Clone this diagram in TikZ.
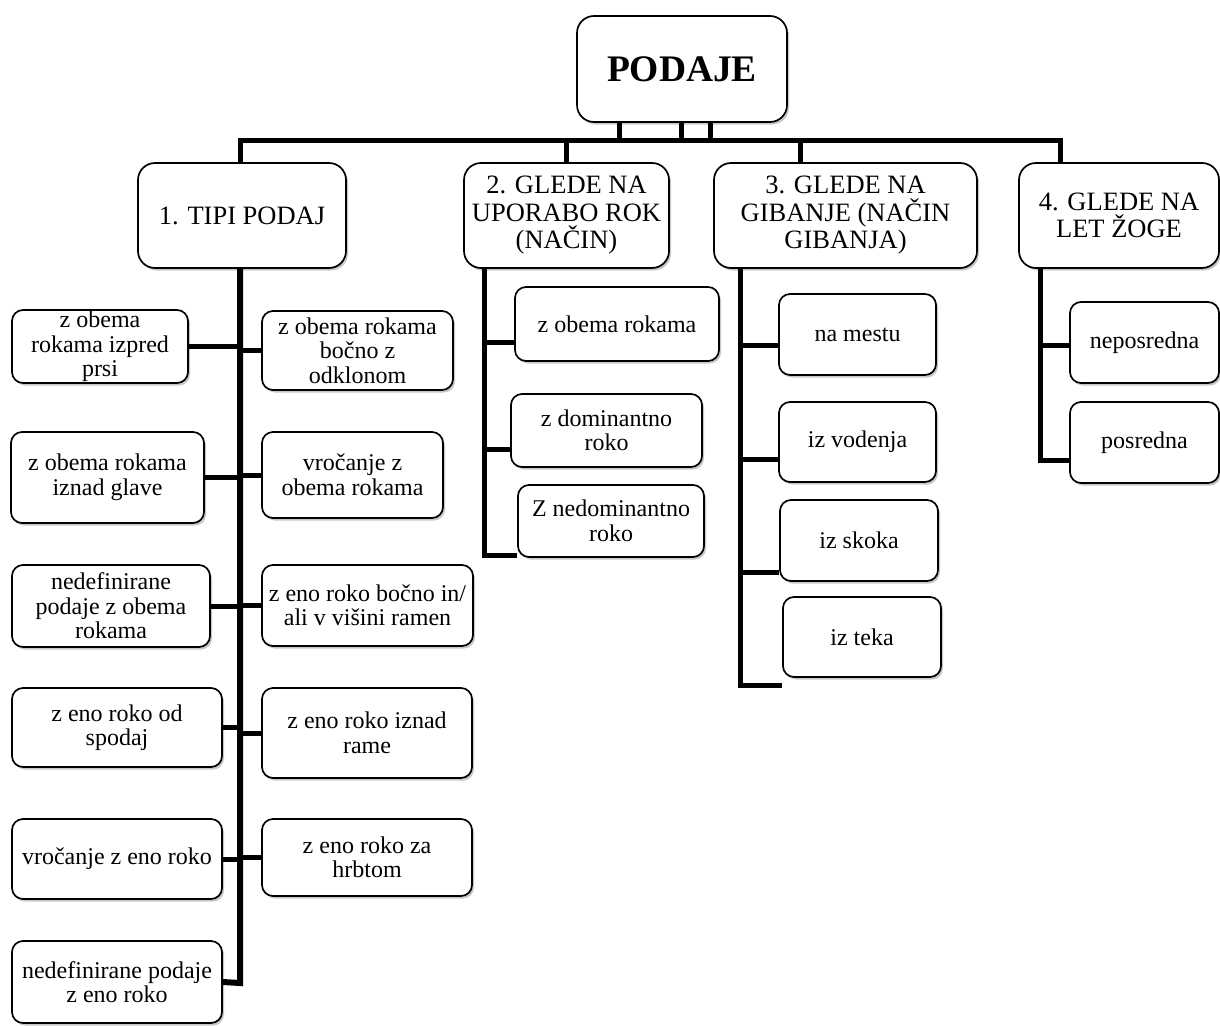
\documentclass[tikz,border=0pt]{standalone}
\usepackage{fontspec}
\setmainfont{Liberation Serif}
\usetikzlibrary{shadows,backgrounds,calc}
\begin{document}
\begin{tikzpicture}[x=1pt,y=-1pt,
  bx/.style={draw=black, line width=1.7pt, fill=white, rounded corners=11pt, align=center,
    inner xsep=2pt, inner ysep=0pt, font=\fontsize{24}{24.5}\selectfont,
    drop shadow={shadow xshift=2pt, shadow yshift=-2.5pt, fill=black, opacity=0.22}},
  big/.style={bx, rounded corners=17pt, font=\fontsize{26.5}{27.5}\selectfont},
  conn/.style={line width=5pt, draw=black}]
\useasboundingbox (0,0) rectangle (1220,1025);

% root and level 1
\node[big, minimum width=210pt, minimum height=106pt, font=\fontsize{37.5}{40}\selectfont\bfseries] (P) at (682,69) {PODAJE};
\node[big, minimum width=208pt, minimum height=105pt] (B1) at (242,215.5) {1. TIPI PODAJ};
\node[big, minimum width=205pt, minimum height=105pt] (B2) at (566.5,215.5) {2. GLEDE NA\\UPORABO ROK\\(NAČIN)};
\node[big, minimum width=263pt, minimum height=105pt] (B3) at (845.5,215.5) {3. GLEDE NA\\GIBANJE (NAČIN\\GIBANJA)};
\node[big, minimum width=200pt, minimum height=105pt] (B4) at (1119,215.5) {4. GLEDE NA\\LET ŽOGE};

% column 1
\node[bx, minimum width=176pt, minimum height=73pt] (L1) at (100,346.5) {z obema\\rokama izpred\\prsi};
\node[bx, minimum width=191pt, minimum height=79pt] (R1) at (357.5,350.5) {z obema rokama\\bočno z\\odklonom};
\node[bx, minimum width=193pt, minimum height=91pt] (L2) at (107.5,477.5) {z obema rokama\\iznad glave};
\node[bx, minimum width=181pt, minimum height=86pt] (R2) at (352.5,475) {vročanje z\\obema rokama};
\node[bx, minimum width=198pt, minimum height=82pt] (L3) at (111,606) {nedefinirane\\podaje z obema\\rokama};
\node[bx, minimum width=211pt, minimum height=81pt] (R3) at (367.5,605.5) {z eno roko bočno in/\\ali v višini ramen};
\node[bx, minimum width=210pt, minimum height=79pt] (L4) at (117,727.5) {z eno roko od\\spodaj};
\node[bx, minimum width=210pt, minimum height=90pt] (R4) at (367,733) {z eno roko iznad\\rame};
\node[bx, minimum width=210pt, minimum height=80pt] (L5) at (117,859) {vročanje z eno roko};
\node[bx, minimum width=210pt, minimum height=77pt] (R5) at (367,857.5) {z eno roko za\\hrbtom};
\node[bx, minimum width=210pt, minimum height=82pt] (L6) at (117,982) {nedefinirane podaje\\z eno roko};

% column 2
\node[bx, minimum width=204pt, minimum height=74pt] (C1) at (617,324) {z obema rokama};
\node[bx, minimum width=191pt, minimum height=73pt] (C2) at (606.5,430.5) {z dominantno\\roko};
\node[bx, minimum width=186pt, minimum height=72pt] (C3) at (611,521) {Z nedominantno\\roko};

% column 3
\node[bx, minimum width=157pt, minimum height=81pt] (D1) at (857.5,334.5) {na mestu};
\node[bx, minimum width=157pt, minimum height=80pt] (D2) at (857.5,442) {iz vodenja};
\node[bx, minimum width=158pt, minimum height=81pt] (D3) at (859,540.5) {iz skoka};
\node[bx, minimum width=158pt, minimum height=80pt] (D4) at (862,637) {iz teka};

% column 4
\node[bx, minimum width=149pt, minimum height=81pt] (E1) at (1144.5,342.5) {neposredna};
\node[bx, minimum width=149pt, minimum height=81pt] (E2) at (1144.5,442.5) {posredna};

\begin{scope}[on background layer]
  \coordinate (p1) at (619,140);
  \coordinate (p2) at (681,140);
  \coordinate (p3) at (710,140);
  \coordinate (h1) at (240,140);
  \coordinate (h2) at (566,140);
  \coordinate (h3) at (800,140);
  \coordinate (h4) at (1060,140);
  \draw[conn] (h1 |- B1.north) -- (h1) -- (h4) -- (h4 |- B4.north);
  \draw[conn] (h2) -- (h2 |- B2.north);
  \draw[conn] (h3) -- (h3 |- B3.north);
  \draw[conn] (p1) -- (p1 |- P.south);
  \draw[conn] (p2) -- (p2 |- P.south);
  \draw[conn] (p3) -- (p3 |- P.south);

  % column 1 spine
  \coordinate (s1) at (240,983);
  \draw[conn, line width=6pt] (s1 |- B1.south) -- (s1) -- (L6.east);
  \foreach \n in {L1,L2,L3,L4,L5} {\draw[conn] (\n.east) -- (\n.east -| s1);}
  \foreach \n in {R1,R2,R3,R4,R5} {\draw[conn] (\n.west) -- (\n.west -| s1);}

  % column 2 spine
  \coordinate (s2) at (484,555);
  \coordinate (c1) at (484,342);
  \coordinate (c2) at (484,449);
  \draw[conn] (s2 |- B2.south) -- (s2) -- (s2 -| C3.west);
  \draw[conn] (c1) -- (c1 -| C1.west);
  \draw[conn] (c2) -- (c2 -| C2.west);

  % column 3 spine
  \coordinate (s3) at (740,685);
  \coordinate (d1) at (740,345);
  \coordinate (d2) at (740,459);
  \coordinate (d3) at (740,572);
  \draw[conn] (s3 |- B3.south) -- (s3) -- (s3 -| D4.west);
  \draw[conn] (d1) -- (d1 -| D1.west);
  \draw[conn] (d2) -- (d2 -| D2.west);
  \draw[conn] (d3) -- (d3 -| D3.west);

  % column 4 spine
  \coordinate (s4) at (1040,460);
  \coordinate (e1) at (1040,345);
  \draw[conn] (s4 |- B4.south) -- (s4) -- (s4 -| E2.west);
  \draw[conn] (e1) -- (e1 -| E1.west);
\end{scope}
\end{tikzpicture}
\end{document}
